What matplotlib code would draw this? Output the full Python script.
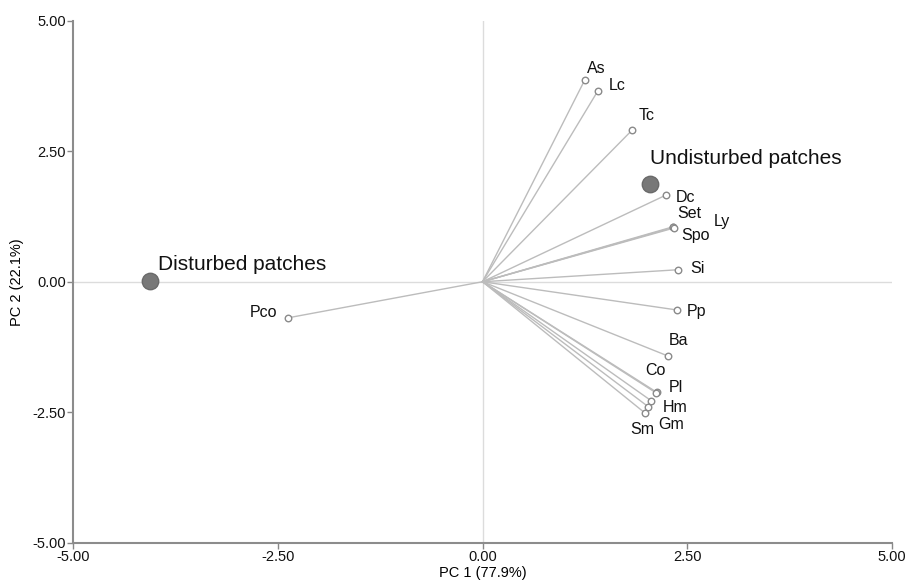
import matplotlib
matplotlib.use("Agg")
from matplotlib import pyplot as plt

plt.rcParams['font.family'] = ['Liberation Sans', 'DejaVu Sans']

# variable loadings (PC1, PC2)
var_names = ['As', 'Lc', 'Tc', 'Dc', 'Set', 'Spo', 'Ly', 'Si', 'Pp', 'Ba',
             'Co', 'Pl', 'Hm', 'Gm', 'Sm', 'Pco']
var_pc1 = [1.25, 1.41, 1.83, 2.24, 2.32, 2.33, 2.34, 2.39, 2.37, 2.26,
           2.13, 2.12, 2.06, 2.02, 1.98, -2.37]
var_pc2 = [3.87, 3.66, 2.91, 1.66, 1.05, 1.04, 1.03, 0.23, -0.54, -1.42,
           -2.12, -2.13, -2.28, -2.39, -2.51, -0.69]

# group scores
grp_names = ['Undisturbed patches', 'Disturbed patches']
grp_pc1 = [2.05, -4.06]
grp_pc2 = [1.88, 0.02]

# label offsets in points (style only)
var_offsets = {
    'As': (8, 8), 'Lc': (14, 4), 'Tc': (10, 10), 'Dc': (14, -2),
    'Set': (12, 10), 'Spo': (16, -6), 'Ly': (34, 5), 'Si': (14, 1),
    'Pp': (14, -1), 'Ba': (8, 11), 'Co': (-1, 16), 'Pl': (14, 4),
    'Hm': (17, -5), 'Gm': (17, -13), 'Sm': (-2, -12), 'Pco': (-18, 4),
}
grp_offsets = {'Undisturbed patches': (0, 18), 'Disturbed patches': (6, 12)}

fig = plt.figure(figsize=(9.07, 5.83), dpi=100)
ax = fig.add_axes([0.0805, 0.069, 0.903, 0.8955])

ax.axhline(0, color='#dcdcdc', lw=1, zorder=0)
ax.axvline(0, color='#dcdcdc', lw=1, zorder=0)

for name, x, y in zip(var_names, var_pc1, var_pc2):
    ax.plot([0, x], [0, y], color='#bcbcbc', lw=1.0, zorder=1)
ax.scatter(var_pc1, var_pc2, s=22, facecolor='white', edgecolor='#8a8a8a',
           linewidth=1.0, zorder=3)
for name, x, y in zip(var_names, var_pc1, var_pc2):
    dx, dy = var_offsets[name]
    ax.annotate(name, (x, y), xytext=(dx, dy), textcoords='offset points',
                ha='center', va='center', fontsize=11.5, color='#111111')

ax.scatter(grp_pc1, grp_pc2, s=140, color='#787878', edgecolor='#6a6a6a',
           zorder=4)
for name, x, y in zip(grp_names, grp_pc1, grp_pc2):
    dx, dy = grp_offsets[name]
    ax.annotate(name, (x, y), xytext=(dx, dy), textcoords='offset points',
                ha='left', va='center', fontsize=15, color='#111111')

ax.set_xlim(-5, 5)
ax.set_ylim(-5, 5)
ticks = [-5, -2.5, 0, 2.5, 5]
ax.set_xticks(ticks)
ax.set_yticks(ticks)
ax.set_xticklabels(['%.2f' % t for t in ticks])
ax.set_yticklabels(['%.2f' % t for t in ticks])
ax.tick_params(labelsize=10.5, colors='#888888', labelcolor='#111111',
               length=4, width=1, pad=1)
for side in ['top', 'right']:
    ax.spines[side].set_visible(False)
for side in ['left', 'bottom']:
    ax.spines[side].set_color('#8c8c8c')
    ax.spines[side].set_linewidth(1.5)

ax.set_xlabel('PC 1 (77.9%)', fontsize=10.5, labelpad=2)
ax.set_ylabel('PC 2 (22.1%)', fontsize=10.5, labelpad=6)

fig.savefig('out.png', dpi=100)
